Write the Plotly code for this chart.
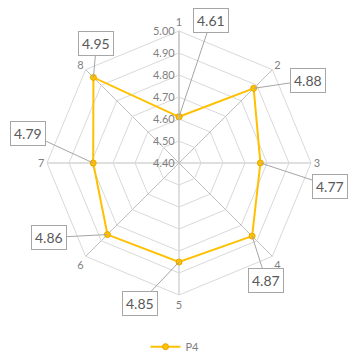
import math
import plotly.graph_objects as go

# Series data
categories = ["1", "2", "3", "4", "5", "6", "7", "8"]
values_p4 = [4.61, 4.88, 4.77, 4.87, 4.85, 4.86, 4.79, 4.95]
series_name = "P4"
r_min, r_max = 4.40, 5.00
radial_ticks = [4.40, 4.50, 4.60, 4.70, 4.80, 4.90, 5.00]

# Pixel offsets of each value label box relative to its point
label_offsets = [(32, -96), (54, -8), (70, 23), (14, 44), (-39, 41), (-58, 3), (-65, -30), (3, -34)]

W, H = 350, 353
cx, cy, R = 179, 163, 132
dom_x = [(cx - R) / W, (cx + R) / W]
dom_y = [1 - (cy + R) / H, 1 - (cy - R) / H]

GOLD = "#FFC000"
TXT = "#7F7F7F"
FONT = "Lato, 'Open Sans', sans-serif"

fig = go.Figure()
fig.add_trace(go.Scatterpolar(
    r=values_p4 + values_p4[:1],
    theta=categories + categories[:1],
    mode="lines+markers",
    name=series_name,
    line=dict(color=GOLD, width=2),
    marker=dict(size=6, color=GOLD, line=dict(color="#E6A800", width=1)),
))

# Value labels, anchored on an overlay cartesian frame that shares the polar square
n = len(categories)
for i, v in enumerate(values_p4):
    frac = (v - r_min) / (r_max - r_min)
    ang = 2 * math.pi * i / n
    ax, ay = label_offsets[i]
    fig.add_annotation(
        x=frac * math.sin(ang), y=frac * math.cos(ang), xref="x", yref="y",
        text=f"{v:.2f}", showarrow=True, arrowhead=0, arrowwidth=1,
        arrowcolor="#A6A6A6", ax=ax, ay=ay,
        bordercolor="#A6A6A6", borderwidth=1, borderpad=3, bgcolor="white",
        font=dict(family=FONT, size=14, color="#595959"),
    )

fig.update_layout(
    width=W, height=H,
    margin=dict(l=0, r=0, t=0, b=0, autoexpand=False),
    paper_bgcolor="white",
    plot_bgcolor="rgba(0,0,0,0)",
    font=dict(family=FONT, color=TXT),
    polar=dict(
        domain=dict(x=dom_x, y=dom_y),
        bgcolor="white",
        gridshape="linear",
        radialaxis=dict(
            range=[r_min, r_max], tickvals=radial_ticks, tickformat=".2f",
            angle=90, side="counterclockwise", tickangle=90,
            showline=True, linecolor="#BFBFBF", linewidth=1,
            gridcolor="#D9D9D9", gridwidth=1, ticks="",
            tickfont=dict(family=FONT, size=11, color=TXT),
        ),
        angularaxis=dict(
            rotation=90, direction="clockwise",
            showline=True, linecolor="#D9D9D9", linewidth=1,
            gridcolor="#BFBFBF", gridwidth=1, ticks="",
            tickfont=dict(family=FONT, size=11, color=TXT),
        ),
    ),
    xaxis=dict(domain=dom_x, range=[-1, 1], visible=False, fixedrange=True),
    yaxis=dict(domain=dom_y, range=[-1, 1], visible=False, fixedrange=True),
    showlegend=True,
    legend=dict(orientation="h", x=0.5, xanchor="center",
                y=0.018, yanchor="middle",
                font=dict(family=FONT, size=11, color=TXT)),
)

fig.write_html("out.html")
